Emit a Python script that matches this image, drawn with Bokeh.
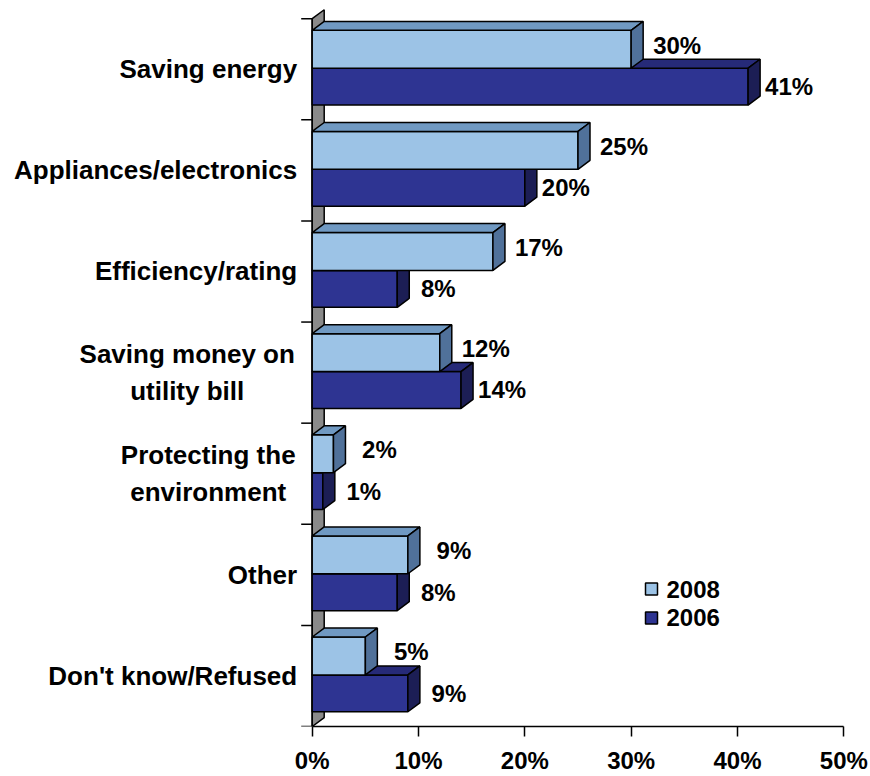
from bokeh.plotting import figure
from bokeh.models import Range1d, FixedTicker
from bokeh.embed import file_html
from bokeh.resources import INLINE
from bokeh.core.properties import value

# ---- data ----
categories = ["Saving energy", "Appliances/electronics", "Efficiency/rating",
              "Saving money on\nutility bill", "Protecting the\nenvironment",
              "Other", "Don't know/Refused"]
v2008 = [30, 25, 17, 12, 2, 9, 5]
v2006 = [41, 20, 8, 14, 1, 8, 9]
series_names = ["2008", "2006"]
x_ticks = [0, 10, 20, 30, 40, 50]
x_tick_labels = ["0%", "10%", "20%", "30%", "40%", "50%"]

# ---- layout constants (pixels) ----
W, H = 870, 776
X0_PX = 311.7          # pixel of 0 %
PX_X = 10.632          # pixels per percent
FRAME_BOTTOM = 729.0   # pixel of frame bottom / x axis
PX_Y = 101.53          # pixels per category band
DX = 12 / PX_X         # 3D depth in data units
DY = 9 / PX_Y
LIGHT_TOP = 0.885
MID = 0.5105
DARK_BOT = 0.146

FONT = "Liberation Sans"
n = len(categories)

p = figure(width=W, height=H, output_backend="svg", toolbar_location=None,
           x_range=Range1d(-X0_PX / PX_X, (W - X0_PX) / PX_X),
           y_range=Range1d(0, FRAME_BOTTOM / PX_Y),
           y_axis_location=None, min_border_left=0, min_border_right=0,
           min_border_top=0, min_border_bottom=int(H - FRAME_BOTTOM))
p.outline_line_color = None
p.xgrid.visible = False
p.ygrid.visible = False
p.background_fill_color = "white"
p.border_fill_color = "white"

# x axis
ax = p.xaxis[0]
ax.ticker = FixedTicker(ticks=x_ticks)
ax.major_label_overrides = {t: l for t, l in zip(x_ticks, x_tick_labels)}
ax.bounds = (x_ticks[0], x_ticks[-1])
ax.axis_line_color = "black"
ax.axis_line_width = 1.5
ax.major_tick_in = 0
ax.major_tick_out = 10
ax.major_tick_line_color = "black"
ax.major_tick_line_width = 1.5
ax.minor_tick_line_color = None
ax.major_label_text_font = FONT
ax.major_label_text_font_style = "bold"
ax.major_label_text_font_size = "24px"
ax.major_label_text_color = "black"
ax.major_label_standoff = 10

# wall
p.patch([0, 0, DX, DX], [0, n, n + DY, DY], fill_color="#8a8a8a",
        line_color="black", line_width=1.5)
# y axis line and ticks
p.segment(x0=[0], y0=[0], x1=[0], y1=[n], line_color="black", line_width=1.5)
p.segment(x0=[-11 / PX_X] * (n + 1), y0=list(range(n + 1)),
          x1=[0] * (n + 1), y1=list(range(n + 1)),
          line_color="black", line_width=1.5)


def faces(vals, y0s, y1s):
    fr_x, fr_y, tp_x, tp_y, sd_x, sd_y = [], [], [], [], [], []
    for v, y0, y1 in zip(vals, y0s, y1s):
        fr_x.append([0, v, v, 0]); fr_y.append([y0, y0, y1, y1])
        tp_x.append([0, v, v + DX, DX]); tp_y.append([y1, y1, y1 + DY, y1 + DY])
        sd_x.append([v, v + DX, v + DX, v]); sd_y.append([y0, y0 + DY, y1 + DY, y1])
    return fr_x, fr_y, tp_x, tp_y, sd_x, sd_y


bands = [n - 1 - i for i in range(n)]
dark = faces(v2006, [b + DARK_BOT for b in bands], [b + MID for b in bands])
light = faces(v2008, [b + MID for b in bands], [b + LIGHT_TOP for b in bands])

for (fx, fy, tx, ty, sx, sy), cols in [
        (dark, ("#2e3492", "#262a78", "#1c1e55")),
        (light, ("#9cc3e6", "#7099c2", "#50719a"))]:
    p.patches(fx, fy, fill_color=cols[0], line_color="black", line_width=1.5)
    p.patches(tx, ty, fill_color=cols[1], line_color="black", line_width=1.5)
    p.patches(sx, sy, fill_color=cols[2], line_color="black", line_width=1.5)

# value labels
lab_y_light = [b + (MID + LIGHT_TOP) / 2 + 4 / PX_Y for b in bands]
lab_y_dark = [b + (DARK_BOT + MID) / 2 for b in bands]
p.text(x=v2008, y=lab_y_light, text=[f"{v}%" for v in v2008], x_offset=46,
       text_align="center", text_baseline="middle", text_font=value(FONT),
       text_font_style="bold", text_font_size="24px", text_color="black")
p.text(x=v2006, y=lab_y_dark, text=[f"{v}%" for v in v2006], x_offset=41,
       text_align="center", text_baseline="middle", text_font=value(FONT),
       text_font_style="bold", text_font_size="24px", text_color="black")

# category labels
single = [(c, b) for c, b in zip(categories, bands) if "\n" not in c]
multi = [(c, b) for c, b in zip(categories, bands) if "\n" in c]
p.text(x=[0] * len(single), y=[b + 0.5 for _, b in single],
       text=[c for c, _ in single], x_offset=-15, text_align="right",
       text_baseline="middle", text_font=value(FONT), text_font_style="bold",
       text_font_size="26px", text_color="black")
multi_center_px = {"Saving money on\nutility bill": -125,
                   "Protecting the\nenvironment": -104}
for c, b in multi:
    p.text(x=[0], y=[b + 0.5], text=[c], x_offset=multi_center_px[c],
           text_align="center", text_baseline="middle", text_font=value(FONT),
           text_font_style="bold", text_font_size="26px", text_color="black",
           text_line_height=1.25)

# legend
leg_x = (651 - X0_PX) / PX_X
leg_y = [(FRAME_BOTTOM - 591) / PX_Y, (FRAME_BOTTOM - 620) / PX_Y]
p.rect(x=[leg_x, leg_x], y=leg_y, width=12, height=12, width_units="screen",
       height_units="screen", fill_color=["#9cc3e6", "#2e3492"],
       line_color="black", line_width=1.5)
p.text(x=[leg_x, leg_x], y=leg_y, text=series_names, x_offset=15,
       text_align="left", text_baseline="middle", text_font=value(FONT),
       text_font_style="bold", text_font_size="24px", text_color="black")

open("out.html", "w").write(file_html(p, INLINE))
